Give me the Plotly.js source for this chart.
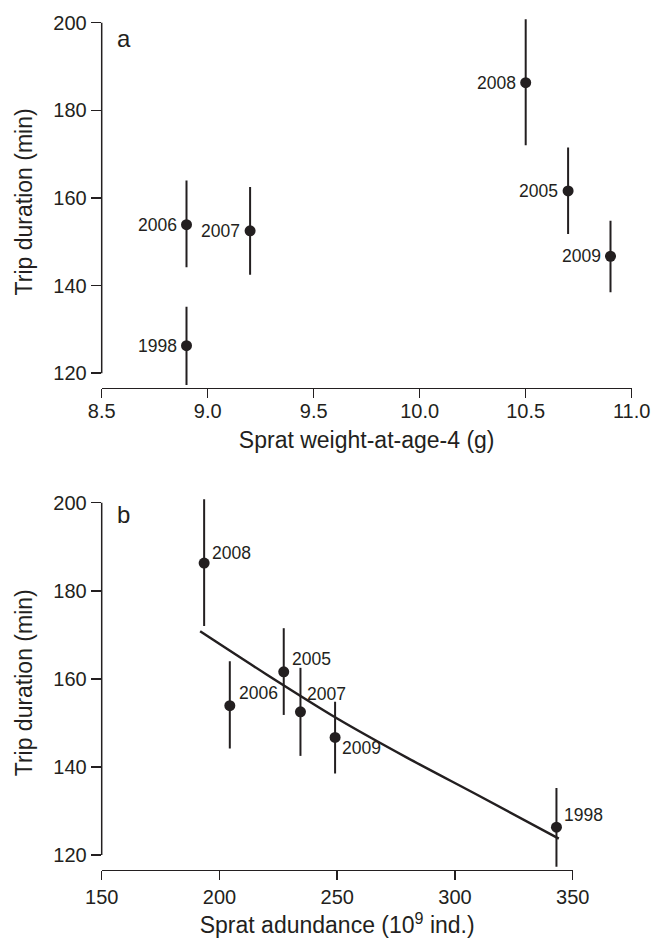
<!DOCTYPE html>
<html>
<head>
<meta charset="utf-8">
<script src="https://cdn.plot.ly/plotly-3.0.1.min.js"></script>
<style>
  html, body { margin: 0; padding: 0; background: #ffffff; }
  #chart { width: 671px; height: 941px; }
</style>
</head>
<body>
<div id="chart"></div>
<script>
// ---------- data ----------
const years        = ['1998', '2005', '2006', '2007', '2008', '2009'];
const weightAge4   = [8.9, 10.7, 8.9, 9.2, 10.5, 10.9];          // g
const spratAbund   = [343.1, 227.3, 204.4, 234.4, 193.5, 249.1]; // 10^9 ind.
const tripMean     = [126.3, 161.6, 153.9, 152.5, 186.3, 146.7]; // min
const tripUpper    = [135.2, 171.5, 164.0, 162.5, 200.8, 154.8];
const tripLower    = [117.3, 151.8, 144.2, 142.5, 172.0, 138.5];

// fitted curve in panel b
const fitX = [191.8, 220, 250, 280, 310, 344.1];
const fitY = [170.8, 161.0, 151.0, 142.0, 133.5, 123.7];

const xTicksA = [8.5, 9.0, 9.5, 10.0, 10.5, 11.0];
const xTicksB = [150, 200, 250, 300, 350];
const yTicks  = [120, 140, 160, 180, 200];

// ---------- styling / layout helpers ----------
const W = 671, H = 941;
const INK = '#231f20';
const FONT = 'Liberation Sans, Arial, Helvetica, sans-serif';
const px2x = p => p / W;
const px2y = p => 1 - p / H;

const errUp   = tripUpper.map((u, i) => u - tripMean[i]);
const errDown = tripMean.map((m, i) => m - tripLower[i]);

const pointStyle = {
  mode: 'markers',
  marker: { size: 11, color: INK },
  error_y: {
    type: 'data', symmetric: false,
    array: errUp, arrayminus: errDown,
    width: 0, thickness: 2, color: INK
  },
  cliponaxis: false,
  hoverinfo: 'skip',
  showlegend: false
};

const traceA = Object.assign({}, pointStyle, {
  x: weightAge4, y: tripMean, xaxis: 'x', yaxis: 'y'
});
const traceB = Object.assign({}, pointStyle, {
  x: spratAbund, y: tripMean, xaxis: 'x2', yaxis: 'y2'
});
const traceFit = {
  x: fitX, y: fitY, xaxis: 'x2', yaxis: 'y2',
  mode: 'lines', line: { color: INK, width: 2.5, shape: 'spline', smoothing: 0.8 },
  hoverinfo: 'skip', showlegend: false
};

// label placement for panel b (relative to the marker)
const placeB = {
  '1998': [6, 12], '2005': [6, 13], '2006': [7, 13],
  '2007': [5, 18], '2008': [6, 10], '2009': [5, -11]
};

const labelFont = { family: FONT, size: 17.5, color: INK };
const annotations = [];
years.forEach((yr, i) => {
  annotations.push({
    xref: 'x', yref: 'y', x: weightAge4[i], y: tripMean[i],
    text: yr, showarrow: false, xanchor: 'right', yanchor: 'middle',
    xshift: -8, font: labelFont
  });
  const p = placeB[yr];
  annotations.push({
    xref: 'x2', yref: 'y2', x: spratAbund[i], y: tripMean[i],
    text: yr, showarrow: false, xanchor: 'left', yanchor: 'middle',
    xshift: p[0], yshift: p[1], font: labelFont
  });
});
annotations.push({
  xref: 'paper', yref: 'paper', x: px2x(115), y: px2y(39),
  text: 'a', showarrow: false, xanchor: 'left', yanchor: 'middle',
  font: { family: FONT, size: 24, color: INK }
});
annotations.push({
  xref: 'paper', yref: 'paper', x: px2x(115), y: px2y(514),
  text: 'b', showarrow: false, xanchor: 'left', yanchor: 'middle',
  font: { family: FONT, size: 24, color: INK }
});

const tickFont  = { family: FONT, size: 20, color: INK };
const titleFont = { family: FONT, size: 23, color: INK };

const xCommon = {
  showline: true, linecolor: INK, linewidth: 1.5,
  ticks: 'outside', ticklen: 9, tickwidth: 1.5, tickcolor: INK,
  showgrid: false, zeroline: false, tickfont: tickFont,
  automargin: false, fixedrange: true
};
const yCommon = {
  showline: false,
  ticks: 'outside', ticklen: 10, tickwidth: 1.5, tickcolor: INK,
  showgrid: false, zeroline: false, tickfont: tickFont,
  tickvals: yTicks, ticktext: yTicks.map(String),
  range: [116.7, 201.5],
  automargin: false, fixedrange: true
};

const layout = {
  width: W, height: H,
  margin: { l: 0, r: 0, t: 0, b: 0 },
  paper_bgcolor: '#ffffff', plot_bgcolor: '#ffffff',
  font: { family: FONT, color: INK },
  xaxis: Object.assign({}, xCommon, {
    domain: [px2x(101.7), px2x(631.7)], anchor: 'y',
    range: [8.5, 11.0], tickvals: xTicksA, ticktext: xTicksA.map(v => v.toFixed(1)),
    ticklabelstandoff: -4,
    title: { text: 'Sprat weight-at-age-4 (g)', font: titleFont, standoff: 10 }
  }),
  yaxis: Object.assign({}, yCommon, {
    domain: [px2y(387.7), px2y(16.1)], anchor: 'x',
    title: { text: 'Trip duration (min)', font: titleFont, standoff: 14 }
  }),
  xaxis2: Object.assign({}, xCommon, {
    domain: [px2x(101.7), px2x(572.7)], anchor: 'y2',
    range: [150, 350], tickvals: xTicksB, ticktext: xTicksB.map(String),
    ticklabelstandoff: 0,
    title: { text: 'Sprat adundance (10<sup>9</sup> ind.)', font: titleFont, standoff: 10 }
  }),
  yaxis2: Object.assign({}, yCommon, {
    domain: [px2y(869.5), px2y(496.1)], anchor: 'x2',
    title: { text: 'Trip duration (min)', font: titleFont, standoff: 14 }
  }),
  shapes: [
    { type: 'line', xref: 'x domain', yref: 'y', x0: 0, x1: 0, y0: 120, y1: 200,
      line: { color: INK, width: 1.5 } },
    { type: 'line', xref: 'x2 domain', yref: 'y2', x0: 0, x1: 0, y0: 120, y1: 200,
      line: { color: INK, width: 1.5 } }
  ],
  annotations: annotations
};

Plotly.newPlot('chart', [traceA, traceFit, traceB], layout, { displayModeBar: false, staticPlot: true });
</script>
</body>
</html>
